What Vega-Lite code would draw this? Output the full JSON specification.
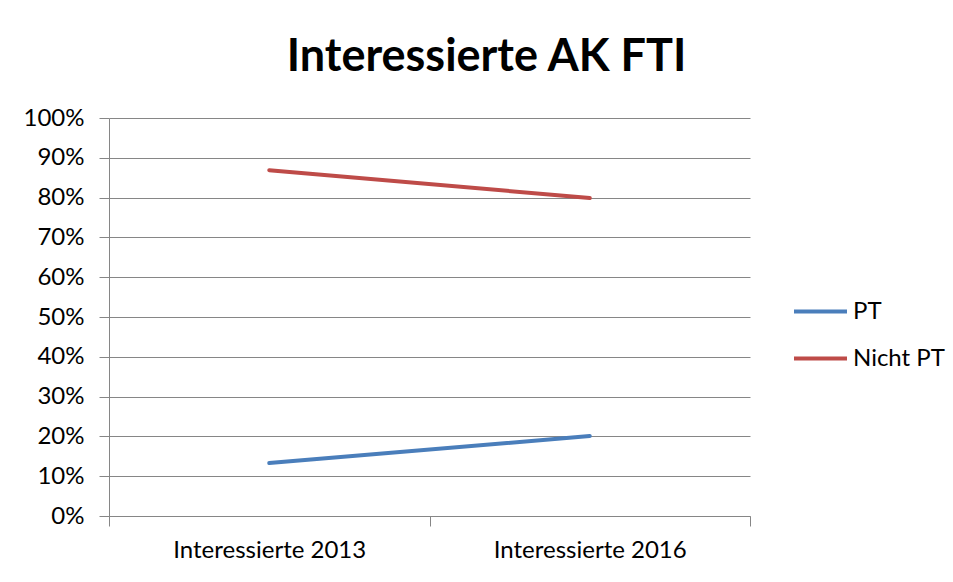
{
  "$schema": "https://vega.github.io/schema/vega-lite/v6.json",
  "width": 641,
  "height": 398,
  "autosize": "none",
  "padding": {"left": 109, "top": 118, "right": 203, "bottom": 66},
  "background": "white",
  "title": {
    "text": "Interessierte AK FTI",
    "font": "Lato",
    "fontWeight": "bold",
    "fontSize": 45,
    "color": "black",
    "anchor": "middle",
    "frame": "group",
    "dx": 57,
    "offset": 26
  },
  "data": {
    "values": [
      {"category": "Interessierte 2013", "series": "PT", "value": 0.133},
      {"category": "Interessierte 2016", "series": "PT", "value": 0.201},
      {"category": "Interessierte 2013", "series": "Nicht PT", "value": 0.869},
      {"category": "Interessierte 2016", "series": "Nicht PT", "value": 0.799}
    ]
  },
  "mark": {"type": "line", "strokeWidth": 4, "strokeCap": "round"},
  "encoding": {
    "x": {
      "field": "category",
      "type": "nominal",
      "sort": null,
      "scale": {"type": "band", "paddingInner": 0, "paddingOuter": 0},
      "axis": {
        "title": null,
        "labelAngle": 0,
        "labelLimit": 400,
        "tickBand": "extent",
        "domainColor": "#868686",
        "tickColor": "#868686",
        "tickSize": 10,
        "labelPadding": 12,
        "labelFont": "Lato",
        "labelFontSize": 24,
        "labelColor": "black",
        "grid": false
      }
    },
    "y": {
      "field": "value",
      "type": "quantitative",
      "scale": {"domain": [0, 1], "nice": false},
      "axis": {
        "title": null,
        "format": ".0%",
        "values": [0, 0.1, 0.2, 0.3, 0.4, 0.5, 0.6, 0.7, 0.8, 0.9, 1],
        "domainColor": "#868686",
        "gridColor": "#868686",
        "tickColor": "#868686",
        "tickSize": 10,
        "labelPadding": 15,
        "labelFont": "Lato",
        "labelFontSize": 24,
        "labelColor": "black"
      }
    },
    "color": {
      "field": "series",
      "type": "nominal",
      "scale": {"domain": ["PT", "Nicht PT"], "range": ["#4A7EBB", "#BE4B48"]},
      "legend": {
        "title": null,
        "orient": "none",
        "legendX": 683,
        "legendY": 165,
        "symbolType": "stroke",
        "symbolSize": 2809,
        "symbolStrokeWidth": 4,
        "labelFont": "Lato",
        "labelFontSize": 24,
        "labelColor": "black",
        "labelOffset": 4,
        "rowPadding": 6
      }
    }
  },
  "config": {"view": {"stroke": null}}
}
